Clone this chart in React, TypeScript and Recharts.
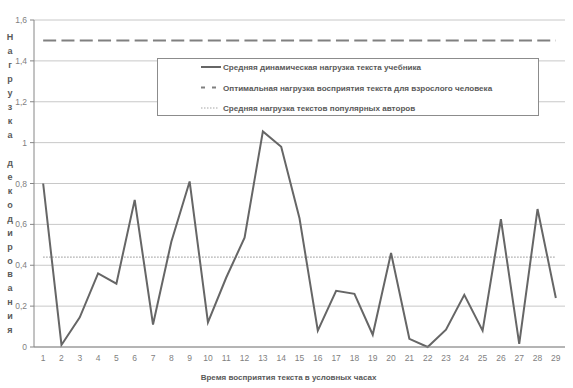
import React from 'react';
import { LineChart, Line, XAxis, YAxis, CartesianGrid, Legend } from 'recharts';

const categories = [1, 2, 3, 4, 5, 6, 7, 8, 9, 10, 11, 12, 13, 14, 15, 16, 17, 18, 19, 20, 21, 22, 23, 24, 25, 26, 27, 28, 29];
const categoryBoundaries = [0.5, 1.5, 2.5, 3.5, 4.5, 5.5, 6.5, 7.5, 8.5, 9.5, 10.5, 11.5, 12.5, 13.5, 14.5, 15.5, 16.5, 17.5, 18.5, 19.5, 20.5, 21.5, 22.5, 23.5, 24.5, 25.5, 26.5, 27.5, 28.5, 29.5];
const textbookLoad = [0.80, 0.01, 0.145, 0.36, 0.31, 0.72, 0.11, 0.515, 0.81, 0.12, 0.34, 0.535, 1.055, 0.98, 0.63, 0.08, 0.275, 0.26, 0.06, 0.46, 0.04, 0.0, 0.085, 0.255, 0.08, 0.625, 0.015, 0.675, 0.24];
const optimalLoad = [1.5, 1.5, 1.5, 1.5, 1.5, 1.5, 1.5, 1.5, 1.5, 1.5, 1.5, 1.5, 1.5, 1.5, 1.5, 1.5, 1.5, 1.5, 1.5, 1.5, 1.5, 1.5, 1.5, 1.5, 1.5, 1.5, 1.5, 1.5, 1.5];
const popularLoad = [0.44, 0.44, 0.44, 0.44, 0.44, 0.44, 0.44, 0.44, 0.44, 0.44, 0.44, 0.44, 0.44, 0.44, 0.44, 0.44, 0.44, 0.44, 0.44, 0.44, 0.44, 0.44, 0.44, 0.44, 0.44, 0.44, 0.44, 0.44, 0.44];
const yTicks = [0, 0.2, 0.4, 0.6, 0.8, 1, 1.2, 1.4, 1.6];

const seriesNames = [
  'Средняя динамическая нагрузка текста учебника',
  'Оптимальная нагрузка восприятия текста для взрослого человека',
  'Средняя нагрузка текстов популярных авторов',
];
const yTitle = 'Нагрузка декодирования';
const xTitle = 'Время восприятия текста в условных часах';

const data = categories.map((c, i) => ({
  hour: c,
  textbook: textbookLoad[i],
  optimal: optimalLoad[i],
  popular: popularLoad[i],
}));

const FONT = '"Liberation Sans", Arial, sans-serif';
const TEXT = '#595959';
const AXIS = '#868686';

const YTitle = () => (
  <text x={10} y={40} textAnchor="middle" fontSize={9} fontWeight="bold" fill={TEXT} fontFamily={FONT}>
    {yTitle.split('').map((ch, i) => (
      <tspan key={i} x={10} y={40 + i * 13.97}>{ch === ' ' ? '\u00a0' : ch}</tspan>
    ))}
  </text>
);

const XTitle = (props: any) => {
  const vb = props.viewBox || {};
  return (
    <text x={vb.x + vb.width / 2 - 11} y={380} textAnchor="middle" fontSize={8} fontWeight="bold" fill={TEXT} fontFamily={FONT}>
      {xTitle}
    </text>
  );
};

const LegendBox = () => {
  const rows = [
    { dash: undefined, stroke: '#666666', w: 2, len: 20 },
    { dash: '4 7', stroke: '#808080', w: 2, len: 15 },
    { dash: '1.5 1.5', stroke: '#a6a6a6', w: 1.2, len: 17 },
  ];
  return (
    <svg width={382} height={58} style={{ display: 'block' }}>
      {rows.map((r, i) => (
        <g key={i}>
          <line x1={43} x2={43 + r.len} y1={8 + i * 20.5} y2={8 + i * 20.5} stroke={r.stroke} strokeWidth={r.w} strokeDasharray={r.dash} />
          <text x={65} y={11 + i * 20.5} fontSize={8.1} fontWeight="bold" fill={TEXT} fontFamily={FONT}>{seriesNames[i]}</text>
        </g>
      ))}
    </svg>
  );
};

export default function App() {
  return (
    <div style={{ position: 'absolute', left: 0, top: 0, width: 573, height: 388, background: '#fff', fontFamily: FONT }}>
      <LineChart width={573} height={388} data={data} margin={{ top: 20, right: 8, bottom: 0, left: 0 }}>
        <CartesianGrid vertical={false} stroke="#c8c8c8" />
        <XAxis
          xAxisId="marks"
          type="number"
          domain={[0.5, 29.5]}
          ticks={categoryBoundaries}
          interval={0}
          height={0}
          tick={false}
          tickLine={{ stroke: AXIS }}
          tickSize={4}
          axisLine={false}
          allowDataOverflow
        />
        <XAxis
          xAxisId="main"
          dataKey="hour"
          type="number"
          domain={[0.5, 29.5]}
          ticks={categories}
          interval={0}
          height={41}
          tickLine={false}
          tickSize={4}
          tickMargin={4}
          axisLine={{ stroke: AXIS }}
          tick={{ fill: '#7f7f7f', fontSize: 8.5, fontFamily: FONT }}
          label={<XTitle />}
          allowDataOverflow
        />
        <YAxis
          width={34}
          domain={[0, 1.6]}
          ticks={yTicks}
          interval={0}
          tickSize={4}
          tickMargin={3}
          axisLine={{ stroke: AXIS }}
          tickLine={{ stroke: AXIS }}
          tick={{ fill: '#7f7f7f', fontSize: 8.5, fontFamily: FONT }}
          tickFormatter={(v: number) => String(v).replace('.', ',')}
          label={<YTitle />}
        />
        <Legend
          layout="vertical"
          align="center"
          verticalAlign="middle"
          content={<LegendBox />}
          wrapperStyle={{ left: 157, top: 58, width: 382, height: 58, border: '1px solid #8c8c8c', background: '#fff', boxSizing: 'border-box' }}
        />
        <Line xAxisId="main" type="linear" dataKey="optimal" name={seriesNames[1]} stroke="#808080" strokeWidth={2} strokeDasharray="13 5.3" dot={false} isAnimationActive={false} />
        <Line xAxisId="main" type="linear" dataKey="popular" name={seriesNames[2]} stroke="#a6a6a6" strokeWidth={1.2} strokeDasharray="1.5 1.5" dot={false} isAnimationActive={false} />
        <Line xAxisId="main" type="linear" dataKey="textbook" name={seriesNames[0]} stroke="#666666" strokeWidth={2} dot={false} isAnimationActive={false} />
      </LineChart>
    </div>
  );
}
